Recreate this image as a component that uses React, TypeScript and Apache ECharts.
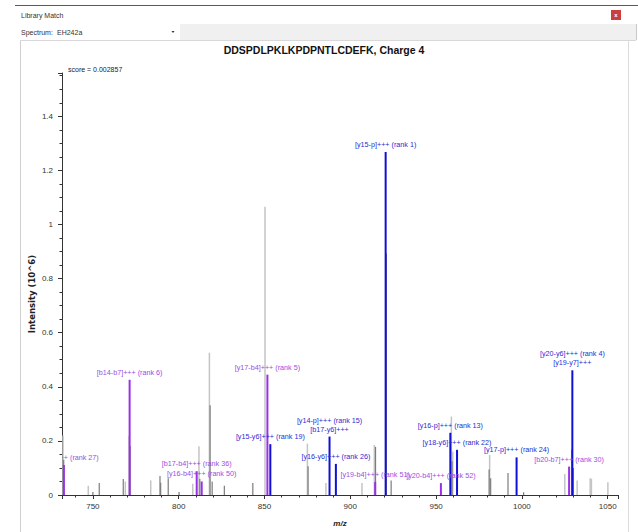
import React, { useEffect, useRef } from 'react';
import * as echarts from 'echarts';

// Unannotated peaks (light grey)
const lightMz = [732.6, 747.3, 768.9, 771.1, 783.7, 808.2, 811.8, 817.9, 850.3, 875.0, 885.8, 906.8, 914.0, 958.9, 959.7, 981.2, 1025.0, 1032.2, 1039.8, 1040.5, 1050.1];
const lightInt = [0.22, 0.034, 0.05, 0.218, 0.054, 0.042, 0.18, 0.526, 1.066, 0.19, 0.044, 0.044, 0.185, 0.29, 0.16, 0.148, 0.078, 0.054, 0.062, 0.06, 0.047];
// Unannotated peaks (dark grey)
const darkMz = [733.0, 750.0, 753.7, 767.7, 771.7, 789.1, 789.5, 793.9, 800.2, 812.3, 818.3, 819.5, 826.6, 843.2, 875.4, 914.7, 921.0, 923.8, 959.3, 980.9, 981.8, 991.9, 1001.0, 1029.0, 1030.0];
const darkInt = [0.13, 0.011, 0.044, 0.059, 0.18, 0.07, 0.045, 0.062, 0.011, 0.06, 0.332, 0.05, 0.034, 0.044, 0.106, 0.178, 0.893, 0.054, 0.125, 0.094, 0.062, 0.081, 0.01, 0.167, 0.1];
// Annotated b/internal peaks (purple)
const purpleMz = [733.1, 771.4, 810.5, 813.4, 851.7, 914.5, 952.8, 1027.5];
const purpleInt = [0.111, 0.426, 0.088, 0.05, 0.445, 0.048, 0.044, 0.105];
const purpleLabels = [
  '[b15-b7]+++ (rank 27)',
  '[b14-b7]+++ (rank 6)',
  '[b17-b4]+++ (rank 36)',
  '[y16-b4]+++ (rank 50)',
  '[y17-b4]+++ (rank 5)',
  '[y19-b4]+++ (rank 51)',
  '[y20-b4]+++ (rank 52)',
  '[b20-b7]+++ (rank 30)',
];
// Annotated y peaks (blue)
const blueMz = [853.4, 887.9, 891.6, 920.6, 958.3, 962.2, 996.9, 1029.4];
const blueInt = [0.188, 0.216, 0.115, 1.268, 0.23, 0.167, 0.139, 0.461];
const blueLabels = [
  '[y15-y6]+++ (rank 19)',
  '[y14-p]+++ (rank 15)\n[b17-y6]+++',
  '[y16-y6]+++ (rank 26)',
  '[y15-p]+++ (rank 1)',
  '[y16-p]+++ (rank 13)',
  '[y18-y6]+++ (rank 22)',
  '[y17-p]+++ (rank 24)',
  '[y20-y6]+++ (rank 4)\n[y19-y7]+++',
];

const TITLE = 'DDSPDLPKLKPDPNTLCDEFK, Charge 4';
const SCORE = 'score = 0.002857';

const FONT = '"Liberation Sans", Arial, sans-serif';

function peakSeries(mz: number[], inten: number[], color: string, width: number, z: number) {
  return {
    type: 'custom',
    clip: true,
    silent: true,
    z,
    data: mz.map((m, i) => [m, inten[i]]),
    encode: { x: 0, y: 1 },
    renderItem: (params: any, api: any) => {
      const x = api.value(0);
      const y = api.value(1);
      const p0 = api.coord([x, 0]);
      const p1 = api.coord([x, y]);
      return {
        type: 'line',
        shape: { x1: p0[0], y1: p0[1], x2: p1[0], y2: p1[1] },
        style: { stroke: color, lineWidth: width },
      };
    },
  };
}

function labelSeries(mz: number[], inten: number[], labels: string[], color: string, z: number) {
  return {
    type: 'custom',
    clip: true,
    silent: true,
    z,
    data: mz.map((m, i) => [m, inten[i]]),
    encode: { x: 0, y: 1 },
    renderItem: (params: any, api: any) => {
      const p = api.coord([api.value(0), api.value(1)]);
      return {
        type: 'text',
        x: p[0],
        y: p[1] - 3,
        style: {
          text: labels[params.dataIndex],
          fill: color,
          font: `7.2px ${FONT}`,
          align: 'center',
          verticalAlign: 'bottom',
          lineHeight: 9,
        },
      };
    },
  };
}

export default function App() {
  const ref = useRef<HTMLDivElement>(null);
  useEffect(() => {
    if (!ref.current) return;
    const chart = echarts.init(ref.current, null, { renderer: 'svg' });
    const axisColor = '#333';
    chart.setOption({
      animation: false,
      backgroundColor: '#ffffff',
      grid: { left: 62, right: 20, top: 73, bottom: 35, containLabel: false },
      xAxis: {
        type: 'value',
        min: 732,
        max: 1056,
        splitNumber: 6,
        name: 'm/z',
        nameLocation: 'middle',
        nameGap: 24,
        nameTextStyle: { fontStyle: 'italic', fontWeight: 'bold', fontSize: 8, color: '#222', fontFamily: FONT },
        axisLine: { lineStyle: { color: axisColor, width: 1 } },
        axisTick: { length: 4, lineStyle: { color: axisColor } },
        minorTick: { show: true, splitNumber: 5, length: 2.5, lineStyle: { color: axisColor } },
        axisLabel: {
          fontSize: 8,
          color: '#333',
          margin: 7,
          showMinLabel: false,
          showMaxLabel: false,
          fontFamily: FONT,
          formatter: (v: number) => String(Math.round(v)),
        },
        splitLine: { show: false },
      },
      yAxis: {
        type: 'value',
        min: 0,
        max: 1.56,
        interval: 0.2,
        axisLine: { show: true, lineStyle: { color: axisColor, width: 1 } },
        axisTick: { show: true, length: 4, lineStyle: { color: axisColor } },
        minorTick: { show: true, splitNumber: 4, length: 2.5, lineStyle: { color: axisColor } },
        axisLabel: {
          fontSize: 8,
          color: '#333',
          margin: 9,
          showMaxLabel: false,
          fontFamily: FONT,
          formatter: (v: number) => (v > 1.5 ? '' : String(Math.round(v * 10) / 10)),
        },
        splitLine: { show: false },
      },
      graphic: [
        { type: 'line', shape: { x1: 15, y1: 5.5, x2: 638, y2: 5.5 }, style: { stroke: '#5a5a5a', lineWidth: 1 } },
        { type: 'text', x: 21, y: 15, style: { text: 'Library Match', font: `7px ${FONT}`, fill: '#333', verticalAlign: 'middle' } },
        { type: 'rect', shape: { x: 611, y: 10, width: 10, height: 10 }, style: { fill: '#c9403e' } },
        { type: 'text', x: 616, y: 15, style: { text: 'x', font: `bold 6px ${FONT}`, fill: '#fff', align: 'center', verticalAlign: 'middle' } },
        { type: 'rect', shape: { x: 180, y: 24, width: 456, height: 16 }, style: { fill: '#f0f0f0' } },
        { type: 'line', shape: { x1: 20, y1: 40.5, x2: 636, y2: 40.5 }, style: { stroke: '#d8d8d8', lineWidth: 1 } },
        { type: 'line', shape: { x1: 636.5, y1: 24, x2: 636.5, y2: 40 }, style: { stroke: '#c8c8c8', lineWidth: 1 } },
        { type: 'text', x: 21, y: 32, style: { text: 'Spectrum:', font: `7px ${FONT}`, fill: '#333', verticalAlign: 'middle' } },
        { type: 'text', x: 57, y: 32, style: { text: 'EH242a', font: `7px ${FONT}`, fill: '#333', verticalAlign: 'middle' } },
        { type: 'polygon', shape: { points: [[171.5, 31], [174.5, 31], [173, 33]] }, style: { fill: '#333' } },
        { type: 'line', shape: { x1: 20.5, y1: 41, x2: 20.5, y2: 532 }, style: { stroke: '#cfcfcf', lineWidth: 1 } },
        { type: 'line', shape: { x1: 628.5, y1: 41, x2: 628.5, y2: 532 }, style: { stroke: '#dcdcdc', lineWidth: 1 } },
        { type: 'text', x: 324, y: 50, style: { text: TITLE, font: `bold 10.5px ${FONT}`, fill: '#111', align: 'center', verticalAlign: 'middle' } },
        { type: 'text', x: 68, y: 69, style: { text: SCORE, font: `7px ${FONT}`, fill: '#222', verticalAlign: 'middle' } },
        {
          type: 'text',
          x: 32,
          y: 294,
          rotation: Math.PI / 2,
          style: { text: 'Intensity (10^6)', font: 'bold 8.5px "DejaVu Sans", sans-serif', fill: '#222', align: 'center', verticalAlign: 'middle' },
        },
      ],
      series: [
        peakSeries(lightMz, lightInt, '#c4c4c4', 1.5, 2),
        peakSeries(darkMz, darkInt, '#7c7c7c', 1.2, 3),
        peakSeries(purpleMz, purpleInt, '#9a30e6', 2, 4),
        peakSeries(blueMz, blueInt, '#1010d4', 2, 5),
        labelSeries(purpleMz, purpleInt, purpleLabels, '#9b4ee2', 6),
        labelSeries(blueMz, blueInt, blueLabels, '#2b2bd2', 7),
      ],
    });
    return () => chart.dispose();
  }, []);
  return (
    <div
      ref={ref}
      style={{ position: 'absolute', left: 0, top: 0, width: 638, height: 532, background: '#fff' }}
    />
  );
}
